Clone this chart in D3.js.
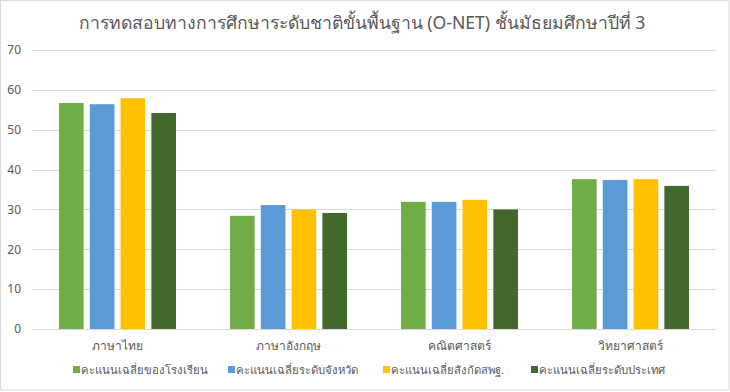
<!DOCTYPE html>
<html lang="th">
<head>
<meta charset="UTF-8">
<title>O-NET ม.3</title>
<script src="https://d3js.org/d3.v7.min.js"></script>
<style>
  body { margin: 0; background: #fff; font-family: "Noto Sans", "DejaVu Sans", sans-serif; }
  svg { display: block; }
</style>
</head>
<body>
<svg id="chart"></svg>
<script>
const titleText = "การทดสอบทางการศึกษาระดับชาติขั้นพื้นฐาน (O-NET) ชั้นมัธยมศึกษาปีที่ 3";
const subjects = ["ภาษาไทย", "ภาษาอังกฤษ", "คณิตศาสตร์", "วิทยาศาสตร์"];
const seriesNames = ["คะแนนเฉลี่ยของโรงเรียน", "คะแนนเฉลี่ยระดับจังหวัด", "คะแนนเฉลี่ยสังกัดสพฐ.", "คะแนนเฉลี่ยระดับประเทศ"];
const schoolAvg   = [56.7, 28.4, 31.9, 37.6];
const provinceAvg = [56.4, 31.1, 31.9, 37.4];
const obecAvg     = [57.9, 30.0, 32.4, 37.6];
const nationAvg   = [54.2, 29.1, 30.0, 35.9];
const yTicks = [0, 10, 20, 30, 40, 50, 60, 70];
const colors = ["#70ad47", "#5b9bd5", "#ffc000", "#43682b"];

const width = 730, height = 392;
const margin = { top: 50, right: 14, bottom: 63, left: 32 };
const values = [schoolAvg, provinceAvg, obecAvg, nationAvg];

const svg = d3.select("#chart").attr("width", width).attr("height", height);

svg.append("rect")
  .attr("x", 0.5).attr("y", 0.5)
  .attr("width", width - 1.5).attr("height", height - 2.5)
  .attr("fill", "#fff").attr("stroke", "#d9d9d9");

svg.append("text")
  .attr("x", 362).attr("y", 29)
  .attr("text-anchor", "middle")
  .attr("font-size", 17.6)
  .attr("fill", "#595959")
  .text(titleText);

const x0 = d3.scaleBand()
  .domain(subjects)
  .range([margin.left, width - margin.right])
  .paddingInner(0.316)
  .paddingOuter(0.158);

const x1 = d3.scaleBand()
  .domain(seriesNames)
  .range([0, x0.bandwidth()])
  .paddingInner(0.2);

const y = d3.scaleLinear()
  .domain([0, 70])
  .range([height - margin.bottom, margin.top]);

// grid
svg.append("g")
  .selectAll("line")
  .data(yTicks)
  .join("line")
  .attr("x1", margin.left).attr("x2", width - margin.right)
  .attr("y1", d => Math.round(y(d)) + 0.5).attr("y2", d => Math.round(y(d)) + 0.5)
  .attr("stroke", "#d9d9d9");

const yAxis = svg.append("g")
  .attr("transform", `translate(${margin.left},0)`)
  .call(d3.axisLeft(y).tickValues(yTicks).tickSize(0).tickPadding(11));
yAxis.select(".domain").remove();
yAxis.selectAll("text").attr("font-size", 12).attr("fill", "#595959")
  .attr("font-family", "\"Noto Sans\", sans-serif");

// bars
const groups = svg.append("g")
  .selectAll("g")
  .data(subjects)
  .join("g")
  .attr("transform", d => `translate(${x0(d)},0)`);

groups.selectAll("rect")
  .data((d, i) => seriesNames.map((s, j) => ({ s, v: values[j][i], c: colors[j] })))
  .join("rect")
  .attr("x", d => x1(d.s))
  .attr("width", x1.bandwidth())
  .attr("y", d => y(d.v))
  .attr("height", d => y(0) - y(d.v))
  .attr("fill", d => d.c);

const xAxis = svg.append("g")
  .attr("transform", `translate(0,${height - margin.bottom})`)
  .call(d3.axisBottom(x0).tickSize(0).tickPadding(12));
xAxis.select(".domain").remove();
xAxis.selectAll("text").attr("font-size", 12).attr("fill", "#595959")
  .attr("font-family", "\"Noto Sans\", sans-serif");

// legend
const legendX = [73, 228, 383, 531];
const legend = svg.append("g")
  .selectAll("g")
  .data(seriesNames)
  .join("g")
  .attr("transform", (d, i) => `translate(${legendX[i]},366)`);
legend.append("rect")
  .attr("width", 7).attr("height", 7)
  .attr("fill", (d, i) => colors[i]);
legend.append("text")
  .attr("x", 8).attr("y", 8)
  .attr("font-size", 11.3)
  .attr("fill", "#595959")
  .text(d => d);
</script>
</body>
</html>
